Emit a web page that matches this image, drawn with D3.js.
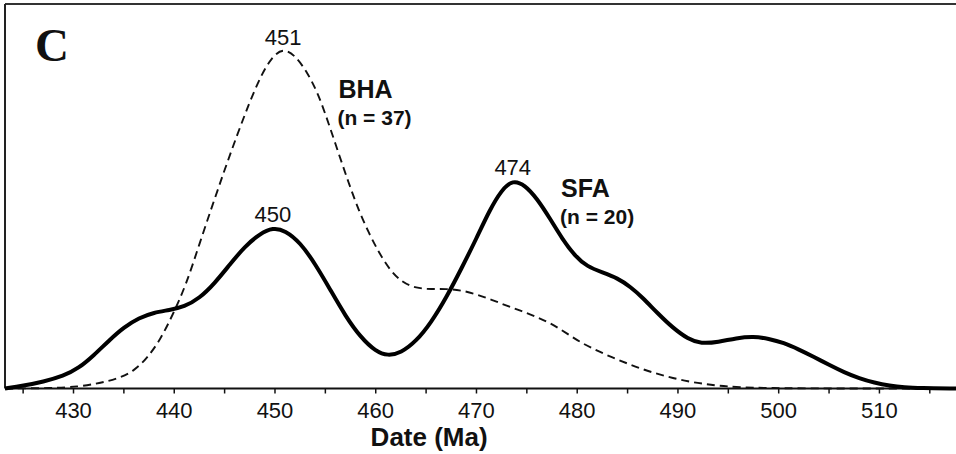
<!DOCTYPE html>
<html>
<head>
<meta charset="utf-8">
<script src="https://cdn.jsdelivr.net/npm/d3@7"></script>
<style>
  html, body { margin: 0; padding: 0; background: #fff; }
  svg { display: block; }
  text { font-family: "Liberation Sans", Arial, sans-serif; fill: #111; }
</style>
</head>
<body>
<svg id="chart"></svg>
<script>
// ages in Ma, relative probability (BHA peak = 1)
const sfaAges = [423.2, 425, 427, 429, 430.5, 432, 433.5, 435, 436.5, 438, 439.5, 441, 442.5, 444, 445.5,
  447, 448.5, 449.8, 451, 452.5, 454, 455.5, 457, 458.5, 460, 461.2, 462.5, 464, 465.5, 467, 468.5,
  470, 471.3, 472.5, 473.6, 474.8, 476, 477.3, 478.5, 479.8, 481, 482.5, 484, 485.3, 486.5, 488,
  489.5, 491, 492.3, 494, 495.8, 497.5, 499, 500.5, 502, 503.5, 505, 506.5, 508, 509.5, 511, 512.5,
  514, 517.6];
const sfaProb = [0, 0.008, 0.020, 0.037, 0.060, 0.098, 0.142, 0.182, 0.210, 0.226, 0.233, 0.243, 0.268, 0.312, 0.368,
  0.422, 0.460, 0.478, 0.470, 0.434, 0.370, 0.293, 0.215, 0.152, 0.110, 0.097, 0.106, 0.140, 0.196, 0.270, 0.356,
  0.446, 0.530, 0.590, 0.620, 0.605, 0.565, 0.505, 0.445, 0.393, 0.362, 0.345, 0.328, 0.302, 0.270, 0.223,
  0.180, 0.147, 0.133, 0.138, 0.150, 0.155, 0.148, 0.136, 0.116, 0.094, 0.070, 0.048, 0.030, 0.017, 0.008, 0.003,
  0.001, 0];

const bhaAges = [423.2, 428, 430.4, 432.6, 434.5, 436, 437.3, 438.6, 439.9, 441.2, 442.5, 443.8, 445, 446.2,
  447.4, 448.6, 449.7, 450.8, 452.0, 453.2, 454.3, 455.3, 456.3, 457.3, 458.3, 459.3, 460.3, 461.4,
  462.6, 464, 465.5, 467, 468.5, 470, 471.5, 473, 474.5, 476, 477.5, 479, 480.5, 482, 483.5, 485,
  486.5, 488, 489.5, 491, 492.5, 494, 496, 499, 505, 517.6];
const bhaProb = [0, 0.001, 0.005, 0.016, 0.030, 0.052, 0.090, 0.144, 0.222, 0.310, 0.430, 0.545, 0.650, 0.750,
  0.845, 0.930, 0.985, 1.012, 0.990, 0.940, 0.875, 0.790, 0.700, 0.612, 0.530, 0.463, 0.405, 0.352,
  0.316, 0.298, 0.295, 0.296, 0.292, 0.280, 0.264, 0.246, 0.230, 0.212, 0.192, 0.163, 0.134, 0.112, 0.092, 0.074,
  0.057, 0.043, 0.031, 0.021, 0.014, 0.008, 0.004, 0.001, 0, 0];

const peakAges = [450.8, 449.8, 473.6];
const peakProb = [1.0, 0.473, 0.614];
const peakLabels = ["451", "450", "474"];

const majorTicks = [430, 440, 450, 460, 470, 480, 490, 500, 510];
const minorTicks = [425, 435, 445, 455, 465, 475, 485, 495, 505, 515];

const width = 956, height = 454;
const margin = { top: 4, right: 0, bottom: 65.5, left: 5 };

const svg = d3.select("#chart").attr("width", width).attr("height", height);
svg.append("rect").attr("width", width).attr("height", height).attr("fill", "#fff");

const x = d3.scaleLinear().domain([423.2, 517.6]).range([margin.left, width - margin.right]);
const y = d3.scaleLinear().domain([0, 1.1426]).range([height - margin.bottom, margin.top]);

// frame: top and left edges
svg.append("line")
  .attr("x1", margin.left).attr("x2", width)
  .attr("y1", margin.top).attr("y2", margin.top)
  .attr("stroke", "#333").attr("stroke-width", 2);
svg.append("line")
  .attr("x1", margin.left).attr("x2", margin.left)
  .attr("y1", margin.top).attr("y2", height - margin.bottom)
  .attr("stroke", "#222").attr("stroke-width", 2);

// x axis
const axis = svg.append("g")
  .attr("transform", `translate(0,${height - margin.bottom})`);
axis.append("line")
  .attr("x1", margin.left).attr("x2", width)
  .attr("stroke", "#111").attr("stroke-width", 2);
axis.selectAll(".tick")
  .data(majorTicks.concat(minorTicks))
  .join("line")
  .attr("x1", d => x(d)).attr("x2", d => x(d))
  .attr("y1", 0).attr("y2", 5)
  .attr("stroke", "#111").attr("stroke-width", 1.5);
axis.selectAll(".lbl")
  .data(majorTicks)
  .join("text")
  .attr("x", d => x(d))
  .attr("y", 29.5)
  .attr("text-anchor", "middle")
  .attr("font-size", 22)
  .text(d => d);
svg.append("text")
  .attr("x", x(465.3))
  .attr("y", 446)
  .attr("text-anchor", "middle")
  .attr("font-size", 26)
  .attr("font-weight", "bold")
  .text("Date (Ma)");

const line = d3.line()
  .x(d => x(d[0]))
  .y(d => y(d[1]))
  .curve(d3.curveBasis);

svg.append("path")
  .datum(d3.zip(bhaAges, bhaProb))
  .attr("d", line)
  .attr("fill", "none")
  .attr("stroke", "#111")
  .attr("stroke-width", 1.9)
  .attr("stroke-dasharray", "8,5");

svg.append("path")
  .datum(d3.zip(sfaAges, sfaProb))
  .attr("d", line)
  .attr("fill", "none")
  .attr("stroke", "#000")
  .attr("stroke-width", 4)
  .attr("stroke-linejoin", "round");

// peak labels
svg.selectAll(".peak")
  .data(d3.zip(peakAges, peakProb, peakLabels))
  .join("text")
  .attr("x", d => x(d[0]))
  .attr("y", d => y(d[1]) - 7)
  .attr("text-anchor", "middle")
  .attr("font-size", 22)
  .text(d => d[2]);

// series labels
const seriesNames = ["BHA", "SFA"];
const seriesCounts = ["(n = 37)", "(n = 20)"];
const seriesAt = [[456.3, 0.863], [478.4, 0.569]];
seriesNames.forEach((name, i) => {
  const g = svg.append("g")
    .attr("transform", `translate(${x(seriesAt[i][0])},${y(seriesAt[i][1])})`);
  g.append("text").attr("font-size", 25).attr("font-weight", "bold").text(name);
  g.append("text").attr("y", 27).attr("x", -1).attr("font-size", 21).attr("font-weight", "bold").text(seriesCounts[i]);
});

// panel letter
svg.append("text")
  .attr("x", 35)
  .attr("y", 61)
  .attr("font-size", 47)
  .attr("font-weight", "bold")
  .style("font-family", "'Liberation Serif', 'Times New Roman', serif")
  .text("C");
</script>
</body>
</html>
